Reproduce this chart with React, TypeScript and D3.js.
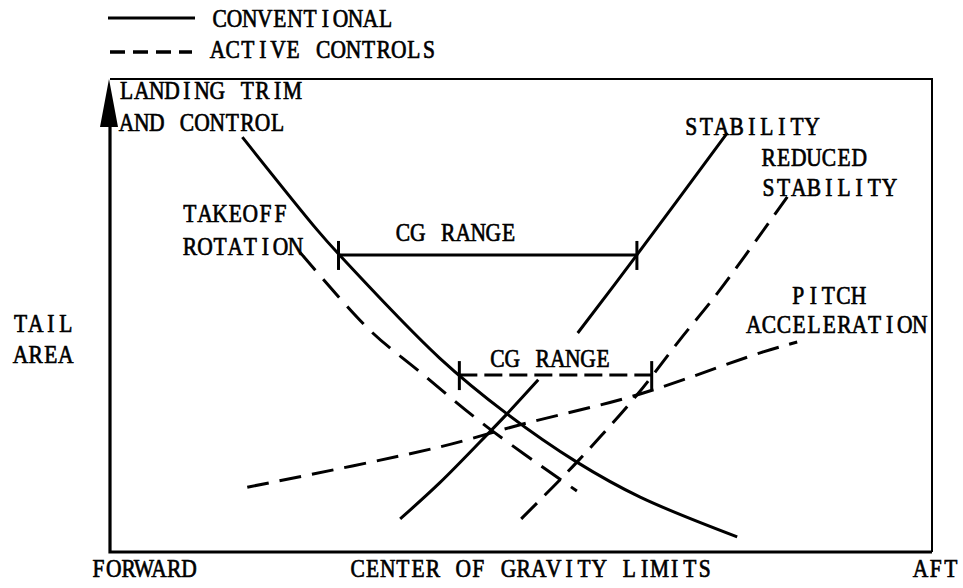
import * as d3 from 'd3';

// curve values (x: forward→aft, y: tail area), both 0–100
const landingTrim = [[16.1, 87.7], [25.2, 68.1], [27.7, 63.2], [40.1, 41.0], [48.3, 29.2], [56.8, 19.0], [64.5, 11.6], [76.3, 3.2]];
const takeoffRotation = [[23.1, 63.4], [31.6, 46.9], [37.4, 38.5], [45.9, 26.4], [56.8, 12.9]];
const stabilityUpper = [[75.1, 88.6], [64.1, 62.8], [56.9, 46.3]];
const stabilityLower = [[52.1, 36.4], [48.3, 29.2], [46.2, 25.4], [40.1, 14.6], [35.3, 7.0]];
const reducedStability = [[82.4, 75.1], [74.2, 55.4], [69.3, 44.8], [64.1, 33.2], [56.8, 19.0], [49.5, 6.1]];
const pitchAccel = [[16.7, 13.7], [40.1, 22.2], [49.9, 26.9], [64.1, 33.2], [79.1, 42.1], [83.6, 44.4]];

// cg ranges: [from, to, level]
const cgConventional = [27.8, 64.1, 62.8];
const cgActive = [42.5, 65.9, 37.4];

const legendItems = ['CONVENTIONAL', 'ACTIVE CONTROLS'];
const xAxisLabels = ['FORWARD', 'CENTER OF GRAVITY LIMITS', 'AFT'];
const yAxisLabel = ['TAIL', 'AREA'];

const W = 963, H = 588;
const box = { l: 110, t: 79, r: 932, b: 552 };
const PITCH = 15.1; // typewriter character pitch in px
const SX = 0.86;    // horizontal squeeze of the serif face

// typewriter-like text: every character centred in a fixed-width cell
function T({ x, y, children }: { x: number; y: number; children: string }) {
  const xs = Array.from(children, (_, i) => ((x + (i + 0.5) * PITCH) / SX).toFixed(1)).join(' ');
  return (
    <text transform={`scale(${SX},1)`} x={xs} y={y} textAnchor="middle">{children}</text>
  );
}

export default function App() {
  const x = d3.scaleLinear().domain([0, 100]).range([box.l, box.r]);
  const y = d3.scaleLinear().domain([0, 100]).range([box.b, box.t]);
  const line = d3.line<number[]>().x(d => x(d[0])).y(d => y(d[1])).curve(d3.curveCatmullRom.alpha(0.5));

  const solid = { fill: 'none', stroke: '#000', strokeWidth: 3 };
  const dashed = { ...solid, strokeDasharray: '22,11' };

  // annotation placement in data units
  const notes: [string, number, number][] = [
    ['LANDING TRIM', 1.1, 95.8],
    ['AND CONTROL', 1.1, 88.9],
    ['TAKEOFF', 8.8, 69.8],
    ['ROTATION', 8.8, 62.8],
    ['CG RANGE', 34.7, 65.8],
    ['STABILITY', 69.8, 88.2],
    ['REDUCED', 79.2, 81.6],
    ['STABILITY', 79.2, 75.3],
    ['PITCH', 82.8, 52.4],
    ['ACCELERATION', 77.4, 46.3],
    ['CG RANGE', 46.2, 39.1],
  ];

  const range = (r: number[], style: object) => (
    <g>
      <path d={`M${x(r[0])},${y(r[2])}H${x(r[1])}`} {...style} />
      {[r[0], r[1]].map((v, i) => (
        <line key={i} x1={x(v)} x2={x(v)} y1={y(r[2]) - 14} y2={y(r[2]) + 15} stroke="#000" strokeWidth={3} />
      ))}
    </g>
  );

  return (
    <svg width={W} height={H} style={{ position: 'absolute', left: 0, top: 0, background: '#fff' }}>
      <g fontFamily='"Liberation Serif", serif' fontSize={25} fill="#000" stroke="#000" strokeWidth={0.7}>
        {/* legend */}
        <T x={212} y={27}>{legendItems[0]}</T>
        <T x={210} y={58}>{legendItems[1]}</T>

        {/* axis labels */}
        <T x={13} y={332}>{yAxisLabel[0]}</T>
        <T x={13} y={363}>{yAxisLabel[1]}</T>
        <T x={91} y={577}>{xAxisLabels[0]}</T>
        <T x={350} y={577}>{xAxisLabels[1]}</T>
        <T x={913} y={577}>{xAxisLabels[2]}</T>

        {notes.map(([t, nx, ny], i) => (
          <T key={i} x={x(nx)} y={y(ny)}>{t}</T>
        ))}
      </g>

      <line x1={108} x2={195} y1={18} y2={18} stroke="#000" strokeWidth={3} />
      <line x1={110} x2={192} y1={52} y2={52} stroke="#000" strokeWidth={3.5} strokeDasharray="15,8" />

      {/* frame */}
      <path d={`M${box.l},${box.t}H${box.r}V${box.b}`} fill="none" stroke="#000" strokeWidth={2} />
      <path d={`M${box.l},${box.t + 40}V${box.b}H${box.r}`} fill="none" stroke="#000" strokeWidth={3.2} />
      <path d={`M${box.l - 1},${box.t}L${box.l - 10},${box.t + 48}L${box.l + 8},${box.t + 48}Z`} fill="#000" />

      {/* curves */}
      <path d={line(landingTrim) ?? ''} {...solid} />
      <path d={line(stabilityUpper) ?? ''} {...solid} />
      <path d={line(stabilityLower) ?? ''} {...solid} />
      <path d={line(takeoffRotation) ?? ''} {...dashed} strokeDasharray="24,12" />
      <path d={line(reducedStability) ?? ''} {...dashed} />
      <path d={line(pitchAccel) ?? ''} {...dashed} />

      {range(cgConventional, solid)}
      {range(cgActive, { ...solid, strokeDasharray: '18,7' })}
    </svg>
  );
}
